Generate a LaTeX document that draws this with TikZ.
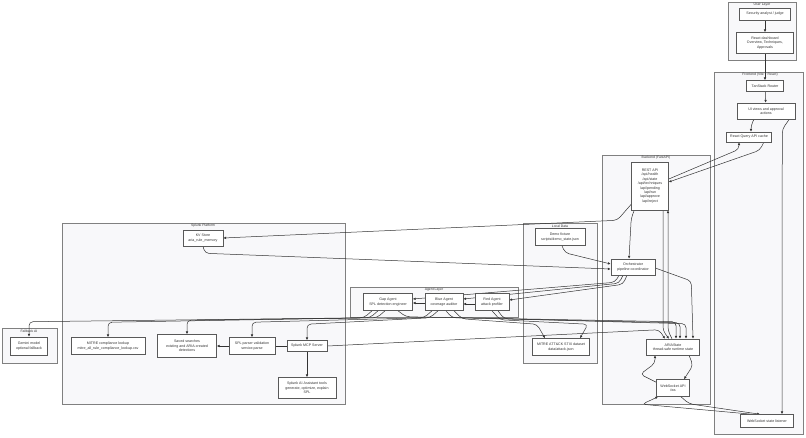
\documentclass[tikz,border=0pt]{standalone}
\usepackage{fontspec}
\setmainfont{Liberation Sans}
\usetikzlibrary{arrows.meta,positioning}
\definecolor{zonefill}{HTML}{F8F8FA}
\definecolor{ink}{HTML}{333333}
\pgfdeclarelayer{bg}
\pgfdeclarelayer{edges}
\pgfsetlayers{bg,edges,main}

\begin{document}
\begin{tikzpicture}[x=1pt,y=-1pt,box/.style={draw=black!65,fill=white,line width=.55pt,align=center,inner sep=0pt,font=\fontsize{3.6}{4.4}\selectfont,text=ink},zone/.style={draw=black!50,fill=zonefill,line width=.5pt},zonetitle/.style={font=\fontsize{3.4}{4}\selectfont,text=ink,inner sep=0pt},a/.style={-{Latex[length=2.8pt,width=2.5pt]},draw=ink,line width=.5pt,rounded corners=4pt}]
\useasboundingbox (0,0) rectangle (806,437);
\begin{pgfonlayer}{bg}
\draw[zone] (728,2) rectangle (796,60); \node[zonetitle] at (762,5) {User Layer};
\draw[zone] (714,72) rectangle (803,434); \node[zonetitle] at (760,75) {Frontend (Vite + React)};
\draw[zone] (602,155) rectangle (710,404); \node[zonetitle] at (656,158) {Backend (FastAPI)};
\draw[zone] (523,223) rectangle (597,363); \node[zonetitle] at (560,226) {Local Data};
\draw[zone] (62,223) rectangle (345,404); \node[zonetitle] at (203,226) {Splunk Platform};
\draw[zone] (350,287) rectangle (518,317); \node[zonetitle] at (434,290) {Agent Layer};
\draw[zone] (2,328) rectangle (57,363); \node[zonetitle] at (29,331) {Fallback AI};
\end{pgfonlayer}
% user and frontend
\node[box,minimum width=51,minimum height=12] (analyst) at (765,14) {Security analyst / judge};
\node[box,minimum width=57,minimum height=21] (dash) at (765,43) {React dashboard\\Overview, Techniques,\\Approvals};
\node[box,minimum width=37,minimum height=11] (router) at (765,86) {TanStack Router};
\node[box,minimum width=58,minimum height=16] (views) at (766,111) {UI views and approval\\actions};
\node[box,minimum width=45,minimum height=10] (cache) at (749,137) {React Query API cache};
\node[box,minimum width=53,minimum height=13] (listener) at (767,421) {WebSocket state listener};
% backend
\node[box,minimum width=37,minimum height=48] (rest) at (650,186) {REST API\\/api/health\\/api/state\\/api/techniques\\/api/pending\\/api/run\\/api/approve\\/api/reject};
\node[box,minimum width=44,minimum height=16] (orch) at (633,267) {Orchestrator\\pipeline coordinator};
\node[box,minimum width=53,minimum height=16] (aria) at (673,347) {ARIAState\\thread-safe runtime state};
\node[box,minimum width=33,minimum height=17] (wsapi) at (673,388) {WebSocket API\\/ws};
% local data
\node[box,minimum width=50,minimum height=17] (demo) at (560,237) {Demo fixture\\scripts/demo\_state.json};
\node[box,minimum width=57,minimum height=17] (stix) at (561,347) {MITRE ATT\&CK STIX dataset\\data/attack.json};
% agents
\node[box,minimum width=49,minimum height=17] (gap) at (388,302) {Gap Agent\\SPL detection engineer};
\node[box,minimum width=38,minimum height=17] (blue) at (444,302) {Blue Agent\\coverage auditor};
\node[box,minimum width=34,minimum height=17] (red) at (492,302) {Red Agent\\attack profiler};
% splunk
\node[box,minimum width=40,minimum height=16] (kv) at (203,238) {KV Store\\aria\_rule\_memory};
\node[box,minimum width=74,minimum height=17] (mitrelk) at (108,346) {MITRE compliance lookup\\mitre\_all\_rule\_compliance\_lookup.csv};
\node[box,minimum width=59,minimum height=23] (saved) at (187,346) {Saved searches\\existing and ARIA-created\\detections};
\node[box,minimum width=46,minimum height=17] (spl) at (252,346) {SPL parser validation\\service.parse};
\node[box,minimum width=40,minimum height=11] (mcp) at (307,346) {Splunk MCP Server};
\node[box,minimum width=58,minimum height=21] (aitools) at (307,388) {Splunk AI Assistant tools\\generate, optimize, explain\\SPL};
\node[box,minimum width=37,minimum height=18] (gemini) at (29,346) {Gemini model\\optional fallback};
\begin{pgfonlayer}{edges}
\draw[a] (analyst) -- (dash);
\draw[a] (dash) -- (router);
\draw[a] (router) -- (views);
\draw[a] ([xshift=-12]views.south) -- ++(-3,6) -- ([xshift=2]cache.north);
\draw[a] ([xshift=-6]views.south east) -- ++(-7,10) -- ([xshift=15]listener.north);
\draw[a] ([xshift=-8]cache.south east) -- ++(-4,8) -- ([yshift=4]rest.east);
\draw[a] ([yshift=7]rest.east) -- ([xshift=-10,yshift=-7]cache.south) -- ([xshift=-10]cache.south);
\draw[a] ([yshift=6]rest.south west) -- ++(-14,16) -- (kv.east);
\draw[a] (kv.south) -- ++(2,7) -- ([yshift=-2]orch.west);
\draw[a] ([xshift=2]demo.south) -- ++(3,7) -- ([yshift=3]orch.west);
\draw[a] ([xshift=3]rest.south west) -- ++(-3,8) -- ([xshift=-4]orch.north);
\draw[a] ([xshift=13]rest.south) -- ([xshift=-10,yshift=8]aria.north) -- ([xshift=-4]aria.north);
\draw[a] ([xshift=-1]aria.north) -- ([xshift=-5,yshift=8]aria.north) -- ([xshift=18]rest.south);
\draw[a] ([xshift=-6]orch.south) -- ++(-4,9) -- ([yshift=2]red.east);
\draw[a] ([xshift=-10]orch.south) -- ++(-4,8) -- ([yshift=3]blue.east);
\draw[a] ([xshift=-14]orch.south) -- ++(-4,7) -- ([yshift=3]gap.east);
\draw[a] ([yshift=-2]red.west) -- ([yshift=-2]blue.east);
\draw[a] ([yshift=-1]blue.west) -- ([yshift=-1]gap.east);
\draw[a] ([yshift=-1]orch.east) -- ++(36,13) -- ([xshift=20]aria.north);
\draw[a] ([xshift=10]gap.south) -- ++(8,6) -- ([xshift=3,yshift=17]aria.north) -- ([xshift=3]aria.north);
\draw[a] ([xshift=2]blue.south) -- ++(6,7) -- ([xshift=7,yshift=16]aria.north) -- ([xshift=7]aria.north);
\draw[a] ([xshift=6]red.south) -- ++(6,8) -- ([xshift=13,yshift=15]aria.north) -- ([xshift=13]aria.north);
\draw[a] ([xshift=10]blue.south) -- ++(8,8) -- ([xshift=-24,yshift=14]stix.north) -- ([xshift=-16]stix.north);
\draw[a] (red.south) -- ++(8,9) -- ([xshift=27,yshift=14]stix.north) -- ([xshift=19]stix.north);
\draw[a] ([xshift=-16]gap.south) -- ++(-8,7) -- ([yshift=15]gemini.north) -- (gemini.north);
\draw[a] ([xshift=-10]gap.south) -- ++(-8,7) -- ([yshift=15]mitrelk.north) -- (mitrelk.north);
\draw[a] ([xshift=-3]gap.south) -- ++(-8,7) -- ([yshift=14]saved.north) -- (saved.north);
\draw[a] ([xshift=-12]blue.south) -- ++(-8,7) -- ([yshift=15]spl.north) -- (spl.north);
\draw[a] ([xshift=-6]blue.south) -- ++(-8,7) -- ([yshift=16]mcp.north) -- (mcp.north);
\draw[a] (mcp) -- (aitools);
\draw[a] (mcp.west) -- (saved.east);
\draw[a] (mcp.east) -- ([xshift=-14,yshift=9]aria.north) -- ([xshift=-8]aria.north);
\draw[a] ([xshift=16]aria.south) -- ++(4,10) -- ([xshift=11]wsapi.north);
\draw[a] ([yshift=-3]wsapi.north west) -- ++(-16,-8) -- ([xshift=-18,yshift=-8]aria.south) -- ([xshift=-18]aria.south);
\draw[a] ([xshift=8]wsapi.south) -- ++(8,7) -- ([xshift=-7]listener.north);
\draw[a] ([xshift=-15]listener.north) -- ++(-110,-10) -- ([xshift=-15]wsapi.south);
\end{pgfonlayer}
\end{tikzpicture}
\end{document}
